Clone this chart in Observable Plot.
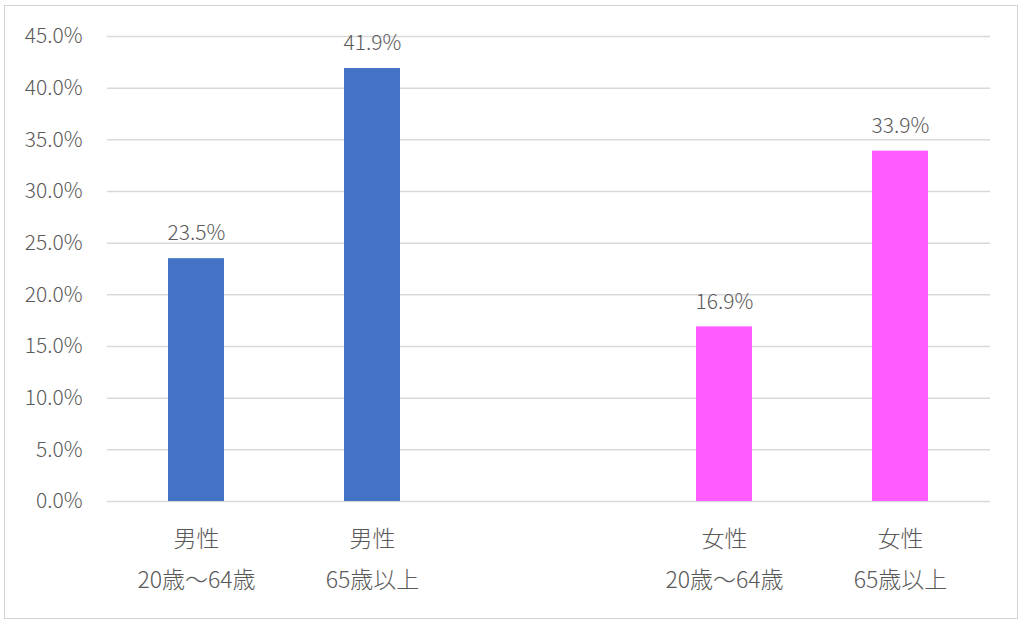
<!DOCTYPE html>
<html>
<head>
<meta charset="utf-8">
<script src="https://cdn.jsdelivr.net/npm/d3@7"></script>
<script src="https://cdn.jsdelivr.net/npm/@observablehq/plot@0.6"></script>
<style>
  html, body { margin: 0; padding: 0; background: #fff; }
  #wrap { position: relative; width: 1024px; height: 626px; }
  #border { position: absolute; left: 4px; top: 5px; width: 1012px; height: 612px; border: 1.5px solid #d4d4d4; pointer-events: none; }
  #chart { position: absolute; left: 0; top: 0; }
</style>
</head>
<body>
<div id="wrap"><div id="chart"></div><div id="border"></div></div>
<script>
const categories = ["m1", "m2", "gap", "f1", "f2"];
const categoryLabels = ["男性\n20歳～64歳", "男性\n65歳以上", "", "女性\n20歳～64歳", "女性\n65歳以上"];
const barCategories = ["m1", "m2", "f1", "f2"];
const values = [0.235, 0.419, 0.169, 0.339];
const barColors = ["#4472c4", "#4472c4", "#ff5bff", "#ff5bff"];
const yTicks = [0, 0.05, 0.10, 0.15, 0.20, 0.25, 0.30, 0.35, 0.40, 0.45];

const data = barCategories.map((c, i) => ({cat: c, value: values[i], color: barColors[i]}));
const labelOf = new Map(categories.map((c, i) => [c, categoryLabels[i]]));
const pct = d3.format(".1%");
const font = "'Noto Sans CJK JP', 'Noto Sans', sans-serif";

const chart = Plot.plot({
  width: 1024,
  height: 626,
  marginLeft: 107,
  marginRight: 34,
  marginTop: 36,
  marginBottom: 125,
  style: {fontFamily: font, color: "#595959", background: "transparent", fontWeight: 300},
  x: {domain: categories, paddingInner: 0.68, paddingOuter: 0.34, label: null},
  y: {domain: [0, 0.45], label: null},
  marks: [
    Plot.gridY(yTicks, {stroke: "#d9d9d9", strokeOpacity: 1, strokeWidth: 1.5}),
    Plot.axisY(yTicks, {tickSize: 0, tickPadding: 25, tickFormat: pct, fontSize: 21, fill: "#595959", label: null}),
    Plot.axisX({tickSize: 0, tickPadding: 16, tickFormat: d => labelOf.get(d), fontSize: 23, lineHeight: 1.78, fill: "#595959", label: null}),
    Plot.barY(data, {x: "cat", y: "value", fill: "color"}),
    Plot.text(data, {x: "cat", y: "value", text: d => pct(d.value), dy: -25, fontSize: 21, fill: "#595959"})
  ]
});
document.getElementById("chart").appendChild(chart);
</script>
</body>
</html>
